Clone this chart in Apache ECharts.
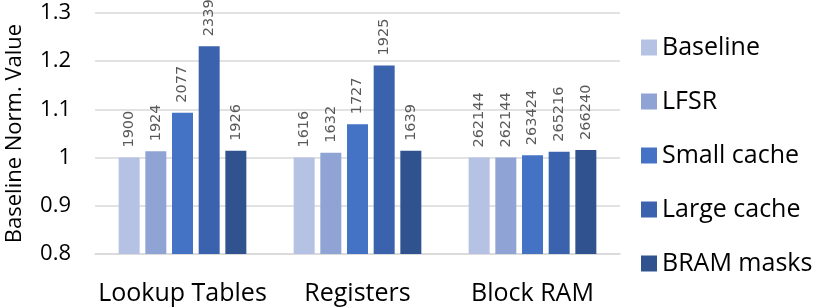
<!DOCTYPE html>
<html>
<head>
<meta charset="utf-8">
<script src="https://cdn.jsdelivr.net/npm/echarts@6/dist/echarts.min.js"></script>
<style>html,body{margin:0;padding:0;background:#fff}#c{width:830px;height:307px}</style>
</head>
<body>
<div id="c"></div>
<script>
var categories = ['Lookup Tables', 'Registers', 'Block RAM'];
var seriesNames = ['Baseline', 'LFSR', 'Small cache', 'Large cache', 'BRAM masks'];
var baselineVals = [1.000, 1.000, 1.000];
var lfsrVals = [1.013, 1.010, 1.000];
var smallCacheVals = [1.093, 1.069, 1.005];
var largeCacheVals = [1.231, 1.191, 1.012];
var bramMasksVals = [1.014, 1.014, 1.016];
var baselineLabels = [1900, 1616, 262144];
var lfsrLabels = [1924, 1632, 262144];
var smallCacheLabels = [2077, 1727, 263424];
var largeCacheLabels = [2339, 1925, 265216];
var bramMasksLabels = [1926, 1639, 266240];
var yTicks = [0.8, 0.9, 1.0, 1.1, 1.2, 1.3];

var colors = ['#B6C2E3', '#8FA4D4', '#4472C4', '#3B63AD', '#30538F'];
var vals = [baselineVals, lfsrVals, smallCacheVals, largeCacheVals, bramMasksVals];
var labs = [baselineLabels, lfsrLabels, smallCacheLabels, largeCacheLabels, bramMasksLabels];
var FONT = '"Open Sans", sans-serif';

var series = seriesNames.map(function (name, i) {
  return {
    name: name,
    type: 'bar',
    barWidth: 21,
    barGap: '27%',
    itemStyle: { color: colors[i] },
    data: vals[i].map(function (v, j) { return { value: v, lab: labs[i][j] }; }),
    label: {
      show: true,
      position: 'top',
      rotate: 90,
      align: 'left',
      verticalAlign: 'middle',
      distance: 10,
      fontFamily: '"DejaVu Sans", sans-serif',
      fontSize: 14.5,
      color: '#595959',
      formatter: function (p) { return String(p.data.lab); }
    }
  };
});

var chart = echarts.init(document.getElementById('c'), null, { renderer: 'canvas' });
chart.setOption({
  animation: false,
  backgroundColor: '#fff',
  color: colors,
  grid: { left: 95, right: 210, top: 13, bottom: 53, containLabel: false, outerBoundsMode: 'none' },
  legend: {
    orient: 'vertical',
    left: 641,
    top: 35,
    padding: 0,
    itemWidth: 16,
    itemHeight: 16,
    itemGap: 29,
    icon: 'rect',
    textStyle: { fontFamily: FONT, fontSize: 25, color: '#000', padding: [0, 0, 0, 0] },
    data: seriesNames
  },
  xAxis: {
    type: 'category',
    data: categories,
    axisLine: { lineStyle: { color: '#D9D9D9', width: 1.5 } },
    axisTick: { show: false },
    axisLabel: { fontFamily: FONT, fontSize: 25, color: '#000', margin: 27, interval: 0 }
  },
  yAxis: {
    type: 'value',
    min: 0.8,
    max: 1.3,
    interval: 0.1,
    name: 'Baseline Norm. Value',
    nameLocation: 'middle',
    nameRotate: 90,
    nameGap: 69,
    nameTextStyle: { fontFamily: FONT, fontSize: 22, color: '#000' },
    axisLine: { show: false },
    axisTick: { show: false },
    splitLine: { lineStyle: { color: '#D9D9D9', width: 1.5 } },
    axisLabel: {
      fontFamily: FONT, fontSize: 22, color: '#000', margin: 24,
      formatter: function (v) {
        var t = yTicks.filter(function (k) { return Math.abs(k - v) < 1e-6; })[0];
        return t === 1 ? '1' : String(Math.round(v * 10) / 10);
      }
    }
  },
  series: series
});
</script>
</body>
</html>
